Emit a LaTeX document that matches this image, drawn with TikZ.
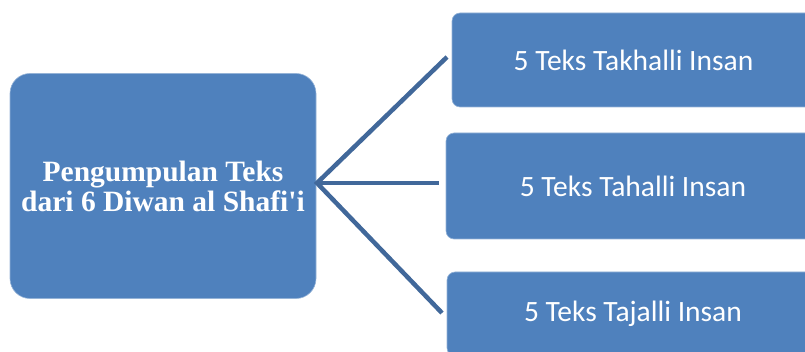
\documentclass[tikz,border=0pt]{standalone}
\usepackage{fontspec}
\setmainfont{Liberation Serif}
\newfontfamily\calib{Carlito}
\definecolor{boxblue}{HTML}{4F81BD}
\definecolor{linkblue}{HTML}{41689A}
\tikzset{
  mainbox/.style={rectangle, rounded corners=20pt, fill=boxblue, draw=boxblue!60!white, line width=0.6pt,
    minimum width=306pt, minimum height=225pt, text=white, align=center,
    font=\fontsize{29.5pt}{30pt}\selectfont\bfseries},
  subbox/.style={rectangle, rounded corners=8pt, fill=boxblue, draw=boxblue!60!white, line width=0.6pt,
    text=white, font=\calib\fontsize{29.5pt}{32pt}\selectfont},
  link/.style={draw=linkblue, line width=4.5pt}
}
\begin{document}
\begin{tikzpicture}[x=1pt,y=-1pt]
\useasboundingbox (0,0) rectangle (805,352);
\clip (0,0) rectangle (805,352);
% source box
\node[mainbox] (src) at (163,186) {Pengumpulan Teks\\dari 6 Diwan al Shafi\textquotesingle i};
% result boxes
\node[subbox, minimum width=363pt, minimum height=94pt] (takhalli) at (633.5,60) {5 Teks Takhalli Insan};
\node[subbox, minimum width=374pt, minimum height=106pt] (tahalli) at (633,186) {5 Teks Tahalli Insan};
\node[subbox, minimum width=372pt, minimum height=84pt] (tajalli) at (633,314) {5 Teks Tajalli Insan};
% connectors
\coordinate (hub) at (317,183);
\coordinate (endA) at (447,57);
\coordinate (endB) at (439,183);
\coordinate (endC) at (442,313);
\draw[link] (endA) -- (hub) -- (endC);
\draw[link] (hub) -- (endB);
\end{tikzpicture}
\end{document}
